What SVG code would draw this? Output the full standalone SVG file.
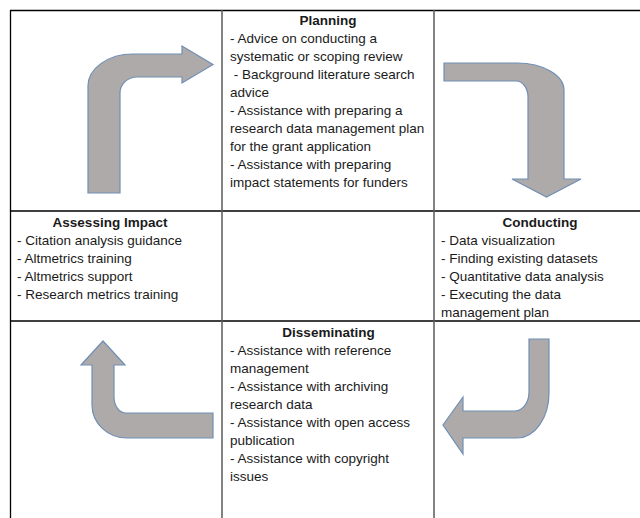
<svg xmlns="http://www.w3.org/2000/svg" width="640" height="518" viewBox="0 0 640 518">
  <style>
    .t { font-family: "Liberation Sans", Arial, sans-serif; font-size: 13.5px; fill: #1a1a1a; }
    .h { font-weight: bold; text-anchor: middle; }
    .hl { stroke: #000; stroke-width: 1.3; }
    .vl { stroke: #5a5a5a; stroke-width: 1.5; }
    .arrow { fill: #aeaaaa; stroke: #6f8fb5; stroke-width: 1.2; stroke-linejoin: miter; }
  </style>
  <rect width="640" height="518" fill="#fff"/>

  <!-- table grid -->
  <g id="grid">
    <line class="hl" x1="10" y1="10.5" x2="640" y2="10.5"/>
    <line class="hl" x1="10" y1="211" x2="640" y2="211"/>
    <line class="hl" x1="10" y1="321" x2="640" y2="321"/>
    <line class="hl" x1="10.5" y1="10" x2="10.5" y2="518"/>
    <line class="vl" x1="222" y1="10" x2="222" y2="518"/>
    <line class="vl" x1="434" y1="10" x2="434" y2="518"/>
  </g>

  <!-- cycle arrows -->
  <g id="connectors">
    <path class="arrow" d="M88,193 L88,86 A45,32 0 0 1 133,54 L182,54 L182,46 L213,64.5 L182,83 L182,77 L137,77 A17,16 0 0 0 120,93 L120,193 Z"/>
    <path class="arrow" d="M444,63 L517,63 A47,27 0 0 1 564,90 L564,179 L581,179 L546.5,197 L512,179 L528,179 L528,97 A12,16 0 0 0 516,81 L444,81 Z"/>
    <path class="arrow" d="M529,339 L549,339 L549,393 A32,45 0 0 1 517,438 L463,438 L463,454 L443,425 L463,397 L463,411 L515,411 A14,19 0 0 0 529,392 Z"/>
    <path class="arrow" d="M213,413 L126,413 A12,16 0 0 1 114,397 L114,365 L125,365 L103,341 L81,365 L92,365 L92,405 A35,33 0 0 0 127,438 L213,438 Z"/>
  </g>

  <g id="planning" class="t">
    <text class="t h" x="328" y="25">Planning</text>
    <text class="t" x="230" y="43">- Advice on conducting a</text>
    <text class="t" x="230" y="61">systematic or scoping review</text>
    <text class="t" x="230" y="79" xml:space="preserve"> - Background literature search</text>
    <text class="t" x="230" y="97">advice</text>
    <text class="t" x="230" y="115">- Assistance with preparing a</text>
    <text class="t" x="230" y="133">research data management plan</text>
    <text class="t" x="230" y="151">for the grant application</text>
    <text class="t" x="230" y="169">- Assistance with preparing</text>
    <text class="t" x="230" y="187">impact statements for funders</text>
  </g>

  <g id="assessing-impact" class="t">
    <text class="t h" x="110" y="227">Assessing Impact</text>
    <text class="t" x="17" y="245">- Citation analysis guidance</text>
    <text class="t" x="17" y="263">- Altmetrics training</text>
    <text class="t" x="17" y="281">- Altmetrics support</text>
    <text class="t" x="17" y="299">- Research metrics training</text>
  </g>

  <g id="conducting" class="t">
    <text class="t h" x="540" y="227">Conducting</text>
    <text class="t" x="441" y="245">- Data visualization</text>
    <text class="t" x="441" y="263">- Finding existing datasets</text>
    <text class="t" x="441" y="281">- Quantitative data analysis</text>
    <text class="t" x="441" y="299">- Executing the data</text>
    <text class="t" x="441" y="317">management plan</text>
  </g>

  <g id="disseminating" class="t">
    <text class="t h" x="328.5" y="337">Disseminating</text>
    <text class="t" x="230" y="355">- Assistance with reference</text>
    <text class="t" x="230" y="373">management</text>
    <text class="t" x="230" y="391">- Assistance with archiving</text>
    <text class="t" x="230" y="409">research data</text>
    <text class="t" x="230" y="427">- Assistance with open access</text>
    <text class="t" x="230" y="445">publication</text>
    <text class="t" x="230" y="463">- Assistance with copyright</text>
    <text class="t" x="230" y="481">issues</text>
  </g>
</svg>
